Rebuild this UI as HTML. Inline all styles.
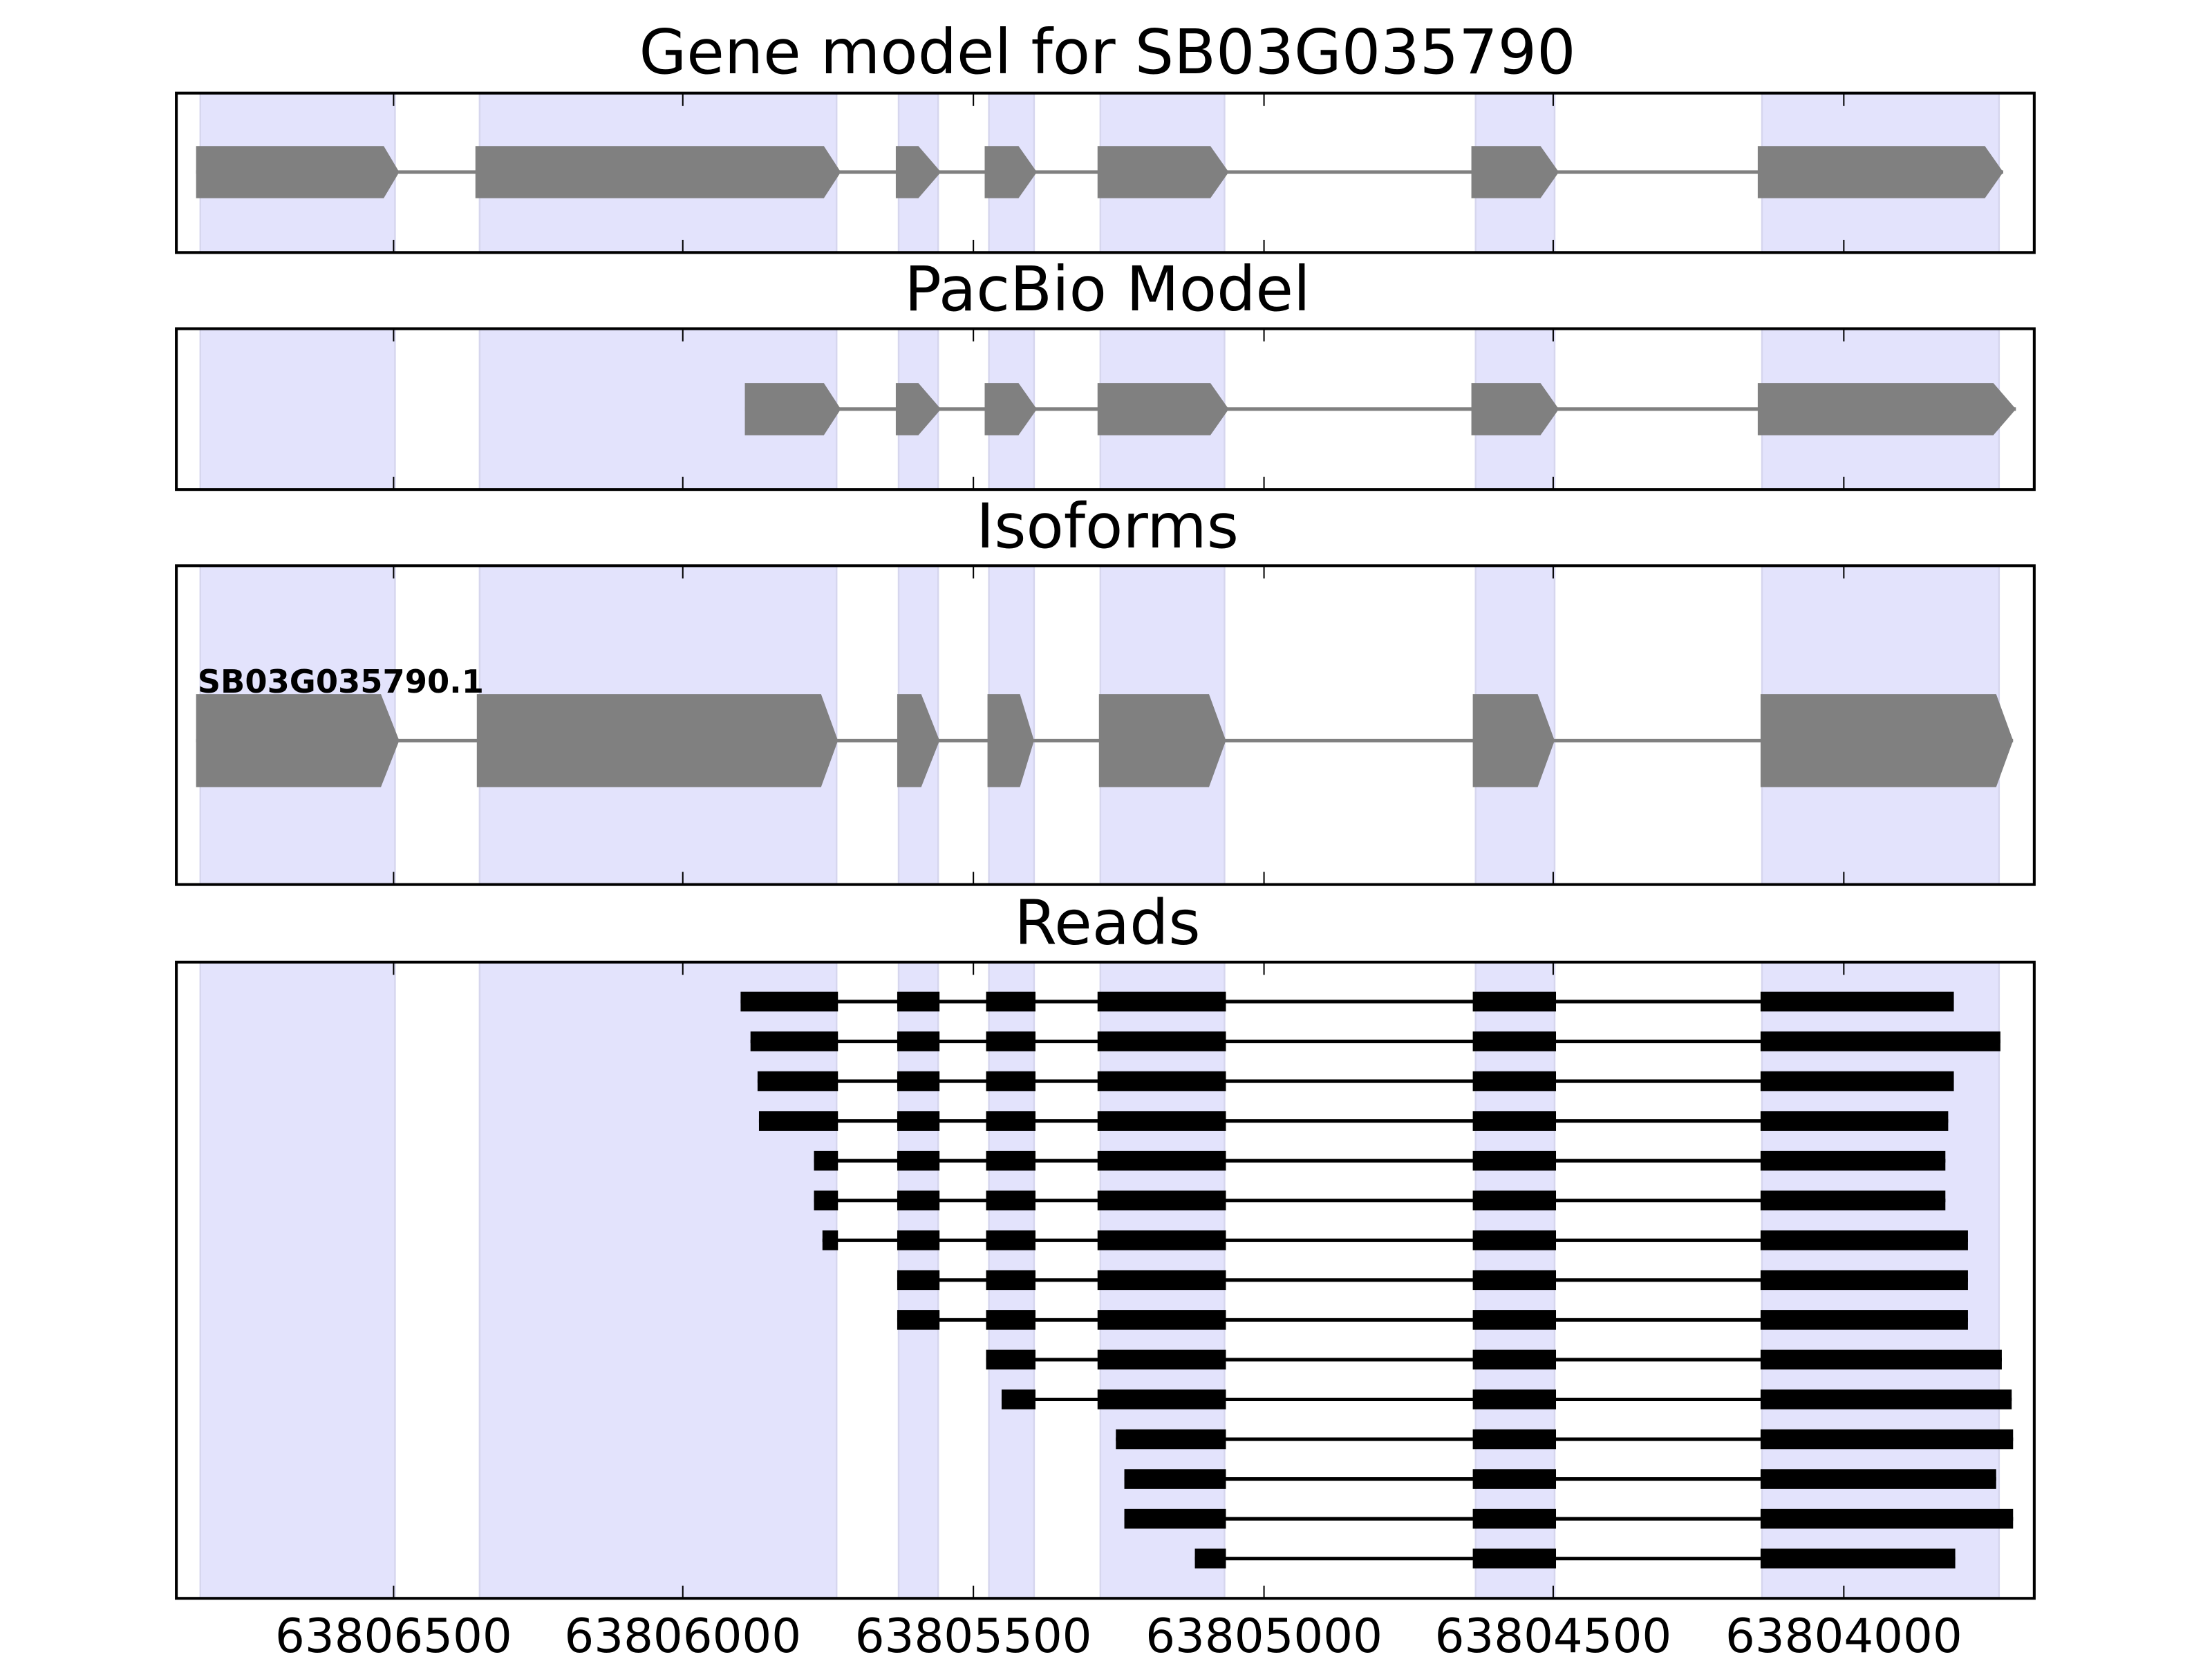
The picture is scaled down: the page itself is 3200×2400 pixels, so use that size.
<!DOCTYPE html>
<html><head><style>html,body{margin:0;padding:0;background:#fff}svg{display:block}</style></head>
<body>
<svg xmlns="http://www.w3.org/2000/svg" width="3200" height="2400" viewBox="0 0 1568 1176" font-family="DejaVu Sans, Liberation Sans, sans-serif">
<rect width="1568" height="1176" fill="#fff"/>
<g id="all"></g>
<script type="text/javascript"><![CDATA[
(function(){
var NS="http://www.w3.org/2000/svg";
var root=document.getElementById("all");
function el(t,a,p){var e=document.createElementNS(NS,t);for(var k in a)e.setAttribute(k,a[k]);(p||root).appendChild(e);return e;}
var L=125,R=1442;
var bands=[[142,280],[340,593],[637,665],[701,733],[780,868],[1046,1102],[1249,1417]];
var ticks=[[279,"63806500"],[484,"63806000"],[690,"63805500"],[896,"63805000"],[1101,"63804500"],[1307,"63804000"]];
var panels=[[66,179,"Gene model for SB03G035790",52],[233,347,"PacBio Model",220],[401,627,"Isoforms",388],[682,1133,"Reads",669]];
panels.forEach(function(p){
  var t=p[0],b=p[1];
  bands.forEach(function(bd){
    el("rect",{x:bd[0],y:t,width:bd[1]-bd[0],height:b-t,fill:"#e3e3fc",stroke:"#d6d6ee","stroke-width":1.2});
  });
  var tx=el("text",{x:785,y:p[3],"text-anchor":"middle","font-size":"43.5"});tx.textContent=p[2];
});
function arrows(cy,h,list){
  el("line",{x1:list[0][0],x2:list[list.length-1][2],y1:cy,y2:cy,stroke:"#808080","stroke-width":2.5});
  list.forEach(function(s){
    var a=s[0],r=s[1],tip=s[2],t=cy-h/2,b=cy+h/2;
    el("polygon",{points:a+","+t+" "+r+","+t+" "+tip+","+cy+" "+r+","+b+" "+a+","+b,fill:"#808080"});
  });
}
arrows(122,37,[[139,272,283],[337,584,596],[635,651,667],[698,722,735],[778,858,871],[1043,1092,1105],[1246,1407,1420]]);
arrows(290,37,[[528,584,596],[635,651,667],[698,722,735],[778,858,871],[1043,1092,1105],[1246,1413,1429]]);
arrows(525,66,[[139,270,283],[338,582,594],[636,653,666],[700,723,733],[779,857,869],[1044,1090,1102],[1248,1415,1427]]);
var lab=el("text",{x:140,y:491,"font-size":"22.7","font-weight":"bold"});lab.textContent="SB03G035790.1";
var A=[636,666],B=[699,734],C=[778,869],D=[1044,1103];
var rows=[
[[525,594],A,B,C,D,[1248,1385]],
[[532,594],A,B,C,D,[1248,1418]],
[[537,594],A,B,C,D,[1248,1385]],
[[538,594],A,B,C,D,[1248,1381]],
[[577,594],A,B,C,D,[1248,1379]],
[[577,594],A,B,C,D,[1248,1379]],
[[583,594],A,B,C,D,[1248,1395]],
[A,B,C,D,[1248,1395]],
[A,B,C,D,[1248,1395]],
[B,C,D,[1248,1419]],
[[710,734],C,D,[1248,1426]],
[[791,869],D,[1248,1427]],
[[797,869],D,[1248,1415]],
[[797,869],D,[1248,1427]],
[[847,869],D,[1248,1386]]];
rows.forEach(function(r,i){
  var cy=710+i*28.2;
  el("line",{x1:r[0][0],x2:r[r.length-1][1],y1:cy,y2:cy,stroke:"#000","stroke-width":2.5});
  r.forEach(function(s){el("rect",{x:s[0],y:cy-7,width:s[1]-s[0],height:14,fill:"#000"});});
});
panels.forEach(function(p){
  var t=p[0],b=p[1];
  ticks.forEach(function(tk){
    el("line",{x1:tk[0],x2:tk[0],y1:t,y2:t+9,stroke:"#000","stroke-width":1});
    el("line",{x1:tk[0],x2:tk[0],y1:b,y2:b-9,stroke:"#000","stroke-width":1});
  });
  el("rect",{x:L,y:t,width:R-L,height:b-t,fill:"none",stroke:"#000","stroke-width":2});
});
ticks.forEach(function(tk){var t=el("text",{x:tk[0],y:1171,"text-anchor":"middle","font-size":"33"});t.textContent=tk[1];});
})();
]]></script>
<text x="-1000" y="-1000">Gene model for SB03G035790 PacBio Model Isoforms Reads SB03G035790.1 63806500 63806000 63805500 63805000 63804500 63804000</text>
</svg>
</body></html>
